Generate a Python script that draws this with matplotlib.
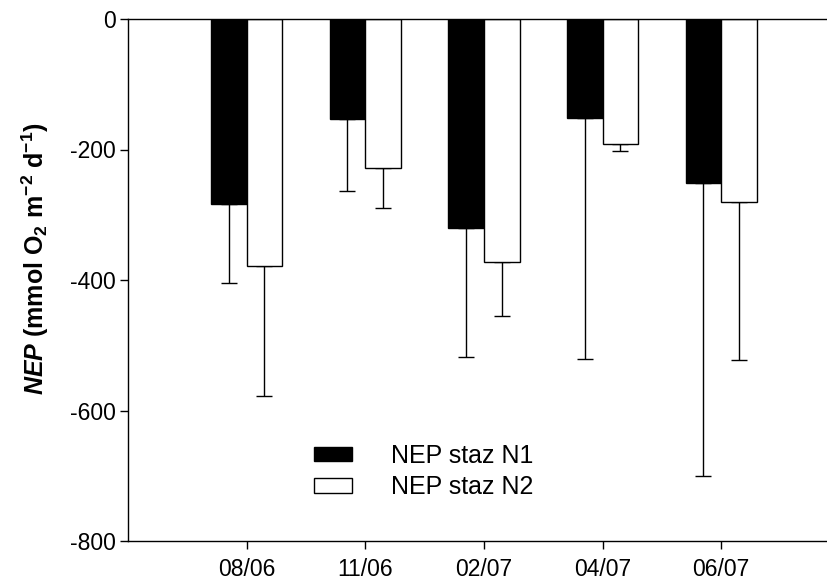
import numpy as np
import matplotlib
matplotlib.use("Agg")
import matplotlib.pyplot as plt

plt.rcParams['font.family'] = ['Liberation Sans', 'DejaVu Sans']
plt.rcParams['mathtext.fontset'] = 'custom'
plt.rcParams['mathtext.rm'] = 'Liberation Sans:bold'
plt.rcParams['mathtext.it'] = 'Liberation Sans:italic:bold'
plt.rcParams['mathtext.bf'] = 'Liberation Sans:bold'

# NEP per sampling date, two stations (mean and lower error)
dates = ['08/06', '11/06', '02/07', '04/07', '06/07']
nep_n1 = [-283, -153, -320, -151, -251]
err_n1 = [122, 110, 198, 370, 449]
nep_n2 = [-378, -228, -372, -191, -281]
err_n2 = [200, 62, 83, 11, 242]
yticks = [0, -200, -400, -600, -800]

fig = plt.figure(figsize=(8.28, 5.83), dpi=100)
ax = fig.add_axes([128/828, 1 - 541/583, 1 - 128/828, (541 - 19)/583])

x = np.arange(1, len(dates) + 1)
w = 0.3
ax.bar(x - w/2, nep_n1, w, color='black', edgecolor='black', linewidth=1,
       label='NEP staz N1', zorder=2)
ax.bar(x + w/2, nep_n2, w, color='white', edgecolor='black', linewidth=1,
       label='NEP staz N2', zorder=2)
# one-sided error bars, pointing away from zero
ax.errorbar(x - w/2, nep_n1, yerr=[err_n1, np.zeros(len(x))], fmt='none',
            ecolor='black', elinewidth=1, capsize=5.8, capthick=1, zorder=1)
ax.errorbar(x + w/2, nep_n2, yerr=[err_n2, np.zeros(len(x))], fmt='none',
            ecolor='black', elinewidth=1, capsize=5.8, capthick=1, zorder=1)

ax.set_xlim(0, 5.9)
ax.set_ylim(-800, 0)
ax.set_xticks(x)
ax.set_xticklabels(dates)
ax.set_yticks(yticks)
ax.set_yticklabels([str(v) for v in yticks])
ax.tick_params(axis='both', direction='out', length=6, width=1, labelsize=16.5)
ax.tick_params(axis='x', pad=6)
ax.tick_params(axis='y', pad=3)
for side in ['left', 'top', 'bottom']:
    ax.spines[side].set_linewidth(1.0)
ax.spines['right'].set_visible(False)

ax.set_ylabel(r'$\it{NEP}$ (mmol O$_2$ m$^{-2}$ d$^{-1}$)',
              fontsize=18, fontweight='bold')
ax.yaxis.set_label_coords(-0.11, 0.54)

ax.legend(loc='center left', bbox_to_anchor=(0.266, 0.133), frameon=False,
          fontsize=18, handlelength=1.52, handleheight=0.52,
          handletextpad=1.56, labelspacing=0.3, borderpad=0,
          borderaxespad=0)

fig.savefig('out.png', dpi=100)
